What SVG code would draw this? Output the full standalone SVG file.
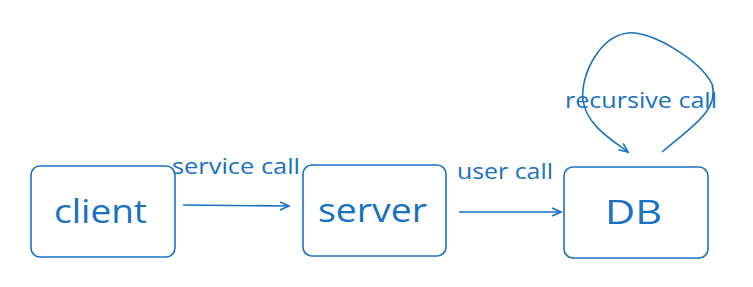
<svg xmlns="http://www.w3.org/2000/svg" width="753" height="287" viewBox="0 0 753 287">
<style>
.box{fill:none;stroke:#1971c2;stroke-width:1.6}
.edge{fill:none;stroke:#1971c2;stroke-width:1.6}
.big{font-family:"Open Sans","DejaVu Sans",sans-serif;font-size:33px;fill:#1971c2}
.lbl{font-family:"Open Sans","DejaVu Sans",sans-serif;font-size:21px;fill:#1971c2}
</style>
<defs>
<marker id="ah" markerWidth="12" markerHeight="10" refX="10" refY="5" orient="auto" markerUnits="userSpaceOnUse">
<path d="M1,1 L10,5 L1,9" fill="none" stroke="#1971c2" stroke-width="1.6"/>
</marker>
</defs>
<rect width="753" height="287" fill="#ffffff"/>
<g id="client">
<rect class="box" x="31" y="166" width="144" height="91" rx="9"/>
<text class="big" x="54" y="223" textLength="93" lengthAdjust="spacingAndGlyphs">client</text>
</g>
<g id="server">
<rect class="box" x="303" y="165" width="143" height="91" rx="9"/>
<text class="big" x="318" y="222" textLength="109" lengthAdjust="spacingAndGlyphs">server</text>
</g>
<g id="DB">
<rect class="box" x="564" y="167" width="144" height="91" rx="9"/>
<text class="big" x="605" y="224" textLength="57" lengthAdjust="spacingAndGlyphs">DB</text>
</g>
<g id="connectors">
<path class="edge" d="M183,205 L289,206" marker-end="url(#ah)"/>
<path class="edge" d="M459,212 L561,212" marker-end="url(#ah)"/>
<path class="edge" d="M662,152 C690,128 720,110 712,84 C700,60 650,30 628,33 C600,36 580,75 583,100 C586,125 612,140 628,152" marker-end="url(#ah)"/>
<text class="lbl" x="172" y="174" textLength="128" lengthAdjust="spacingAndGlyphs">service call</text>
<text class="lbl" x="457" y="179" textLength="96" lengthAdjust="spacingAndGlyphs">user call</text>
<text class="lbl" x="565" y="108" textLength="152" lengthAdjust="spacingAndGlyphs">recursive call</text>
</g>
</svg>
